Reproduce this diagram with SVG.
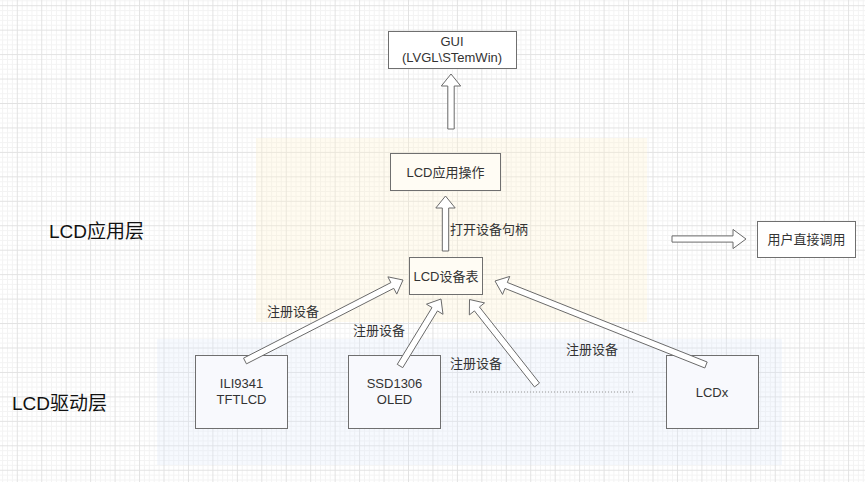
<svg xmlns="http://www.w3.org/2000/svg" width="865" height="482" viewBox="0 0 865 482">
<style>
.box{stroke:#6f6f6f;stroke-width:1}
.t{font-family:"Liberation Sans","Noto Sans CJK SC",sans-serif;font-size:13px;fill:#333}
.lay{font-family:"Liberation Sans","Noto Sans CJK SC",sans-serif;font-size:19px;fill:#111}
.arr{fill:#fff;stroke:#6a6a6a;stroke-width:1;stroke-linejoin:miter}
</style>
<defs>
<pattern id="grid" patternUnits="userSpaceOnUse" x="16.8" y="5.2" width="24.45" height="24.45">
<rect x="4.89" y="0" width="1" height="24.45" fill="#f3f3f3"/>
<rect x="9.78" y="0" width="1" height="24.45" fill="#f3f3f3"/>
<rect x="14.67" y="0" width="1" height="24.45" fill="#f3f3f3"/>
<rect x="19.56" y="0" width="1" height="24.45" fill="#f3f3f3"/>
<rect x="0" y="4.89" width="24.45" height="1" fill="#f3f3f3"/>
<rect x="0" y="9.78" width="24.45" height="1" fill="#f3f3f3"/>
<rect x="0" y="14.67" width="24.45" height="1" fill="#f3f3f3"/>
<rect x="0" y="19.56" width="24.45" height="1" fill="#f3f3f3"/>
<rect x="0" y="0" width="1" height="24.45" fill="#e2e2e2"/>
<rect x="0" y="0" width="24.45" height="1" fill="#e2e2e2"/>
</pattern>
</defs>
<rect x="0" y="0" width="865" height="482" fill="#fff"/>
<rect x="0" y="0" width="865" height="482" fill="url(#grid)"/>

<g id="app-layer-region">
<rect x="256" y="138" width="391" height="184" fill="#fff2cc" fill-opacity="0.3"/>
</g>
<g id="driver-layer-region">
<rect x="157" y="339" width="625" height="126" fill="#dae8fc" fill-opacity="0.25"/>
</g>

<g id="label-app-layer"><text class="lay" x="49" y="237.5">LCD应用层</text></g>
<g id="label-driver-layer"><text class="lay" x="12" y="410">LCD驱动层</text></g>

<g id="gui">
<rect class="box" x="388.5" y="31.5" width="128" height="37" fill="#fff"/>
<text class="t" x="452" y="45.5" text-anchor="middle">GUI</text>
<text class="t" x="452" y="61.5" text-anchor="middle">(LVGL\STemWin)</text>
</g>

<g id="lcd-app-op">
<rect class="box" x="390.5" y="153.5" width="110" height="37" fill="#fffcf4"/>
<text class="t" x="445.5" y="176.5" text-anchor="middle">LCD应用操作</text>
</g>

<g id="lcd-dev-table">
<rect class="box" x="409.5" y="257.5" width="73" height="37" fill="#fffcf4"/>
<text class="t" x="446" y="280.5" text-anchor="middle">LCD设备表</text>
</g>

<g id="user-call">
<rect class="box" x="757.5" y="221.5" width="98" height="36" fill="#fff"/>
<text class="t" x="806.5" y="244" text-anchor="middle">用户直接调用</text>
</g>

<g id="ili9341">
<rect class="box" x="195.5" y="355.5" width="92" height="73" fill="#f8f9fd"/>
<text class="t" x="241.5" y="387.5" text-anchor="middle">ILI9341</text>
<text class="t" x="241.5" y="404" text-anchor="middle">TFTLCD</text>
</g>

<g id="ssd1306">
<rect class="box" x="348.5" y="355.5" width="92" height="73" fill="#f8f9fd"/>
<text class="t" x="394.5" y="387.5" text-anchor="middle">SSD1306</text>
<text class="t" x="394.5" y="404" text-anchor="middle">OLED</text>
</g>

<g id="lcdx">
<rect class="box" x="666.5" y="355.5" width="92" height="73" fill="#f8f9fd"/>
<text class="t" x="712" y="396.5" text-anchor="middle">LCDx</text>
</g>

<g id="connectors">
<line x1="470" y1="392" x2="635" y2="392" stroke="#9a9a9a" stroke-width="1" stroke-dasharray="1 2"/>
<polygon class="arr" points="454.2,129 454.2,86 460.7,86 451,74 441.3,86 447.8,86 447.8,129"/>
<polygon class="arr" points="448.7,251 448.7,208 455.2,208 445.5,196 435.8,208 442.3,208 442.3,251"/>
<polygon class="arr" points="672,235.9 733,235.9 733,229.4 746,239 733,248.6 733,242.1 672,242.1"/>
<polygon class="arr" points="246.46,363.85 393.78,288.32 396.75,294.10 403,280 387.89,276.84 390.86,282.62 243.54,358.15"/>
<polygon class="arr" points="402.73,367.67 437.47,310.91 443.01,314.30 441,299 426.47,304.18 432.01,307.57 397.27,364.33"/>
<polygon class="arr" points="539.51,383.02 479.45,306.94 484.55,302.91 469.5,299.5 469.33,314.93 474.43,310.90 534.49,386.98"/>
<polygon class="arr" points="707.18,362.03 507.33,282.47 509.74,276.43 495,281 502.56,294.45 504.97,288.41 704.82,367.97"/>
<text class="t" x="450" y="234">打开设备句柄</text>
<text class="t" x="267" y="316">注册设备</text>
<text class="t" x="353" y="334.5">注册设备</text>
<text class="t" x="450" y="368">注册设备</text>
<text class="t" x="566" y="353.5">注册设备</text>
</g>
</svg>
